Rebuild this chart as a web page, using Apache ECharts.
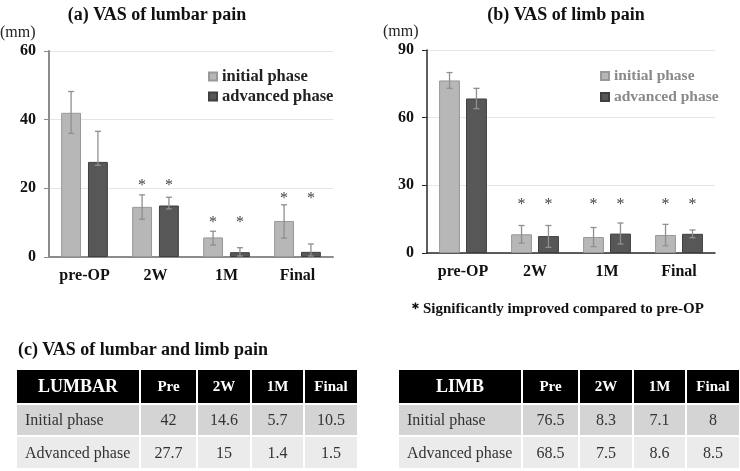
<!DOCTYPE html>
<html>
<head>
<meta charset="utf-8">
<script src="https://cdn.jsdelivr.net/npm/echarts@6/dist/echarts.min.js"></script>
<style>
	html, body { margin: 0; padding: 0; background: #fff; }
	body { width: 740px; height: 471px; position: relative; overflow: hidden; font-family: 'Liberation Serif', 'Times New Roman', serif; }
	#chart { position: absolute; left: 0; top: 0; width: 740px; height: 471px; }
	.note { position: absolute; left: 408px; top: 299px; font-size: 15px; font-weight: bold; color: #111; white-space: nowrap; }
	.sub { position: absolute; left: 18px; top: 339px; font-size: 18px; font-weight: bold; color: #111; white-space: nowrap; }
	.tbl { position: absolute; top: 370px; display: grid; grid-template-columns: 122px 55px 52px 51px 52px; grid-template-rows: 33px 30px 31px; column-gap: 2px; row-gap: 2px; }
	.tbl div { display: flex; align-items: center; justify-content: center; white-space: nowrap; }
	.tbl .h { background: #000; color: #fff; font-weight: bold; font-size: 15px; }
	.tbl .h.first { font-size: 18px; }
	.tbl .r1 { background: #d4d4d4; }
	.tbl .r2 { background: #ebebeb; }
	.tbl .b { color: #333; font-size: 16px; }
	.tbl .b.first { justify-content: flex-start; padding-left: 8px; }
</style>
</head>
<body>
<div id="chart"></div>
<div class="note">＊Significantly improved compared to pre-OP</div>
<div class="sub">(c) VAS of lumbar and limb pain</div>
<div class="tbl" id="lumbarTable" style="left:17px"></div>
<div class="tbl" id="limbTable" style="left:399px"></div>
<script>
const categories = ['pre-OP', '2W', '1M', 'Final'];
const tableCols = ['Pre', '2W', '1M', 'Final'];
const rowNames = ['Initial phase', 'Advanced phase'];

const lumbarInitial = [42, 14.6, 5.7, 10.5];
const lumbarAdvanced = [27.7, 15, 1.4, 1.5];
// error bar [low, high]
const lumbarInitialErr = [[36, 48.2], [11, 18.1], [3.5, 7.5], [5.5, 15.2]];
const lumbarAdvancedErr = [[26.7, 36.6], [14, 17.4], [0.3, 2.7], [0.3, 3.8]];
const lumbarStars = [null, 21.7, 10.8, 17.9];
const lumbarTicks = [0, 20, 40, 60];

const limbInitial = [76.5, 8.3, 7.1, 8];
const limbAdvanced = [68.5, 7.5, 8.6, 8.5];
const limbInitialErr = [[73, 80], [4.4, 12.2], [2.8, 11.3], [3.2, 12.7]];
const limbAdvancedErr = [[64, 73], [2.5, 12.2], [4, 13.3], [6.8, 10.2]];
const limbStars = [null, 22.8, 22.8, 22.8];
const limbTicks = [0, 30, 60, 90];

const FONT = 'Liberation Serif';

function errRender(sign, frac) {
	return function (params, api) {
		const x = api.coord([api.value(0), 0])[0] + sign * api.size([1, 0])[0] * frac;
		const lo = api.coord([api.value(0), api.value(1)])[1];
		const hi = api.coord([api.value(0), api.value(2)])[1];
		const style = { stroke: '#8f8f8f', lineWidth: 1.3 };
		return {
			type: 'group',
			children: [
				{ type: 'line', shape: { x1: x, y1: lo, x2: x, y2: hi }, style },
				{ type: 'line', shape: { x1: x - 3, y1: hi, x2: x + 3, y2: hi }, style },
				{ type: 'line', shape: { x1: x - 3, y1: lo, x2: x + 3, y2: lo }, style },
			],
		};
	};
}

function starRender(frac) {
	return function (params, api) {
		const c = api.coord([api.value(0), api.value(1)]);
		const w = api.size([1, 0])[0] * frac;
		const style = { text: '*', textAlign: 'center', textVerticalAlign: 'middle', fill: '#444', font: '16px ' + FONT };
		return {
			type: 'group',
			children: [
				{ type: 'text', x: c[0] - w, y: c[1] + 3, style },
				{ type: 'text', x: c[0] + w, y: c[1] + 3, style: Object.assign({}, style) },
			],
		};
	};
}

function errData(arr) {
	return arr.map((d, i) => [i, d[0], d[1]]);
}
function starData(arr) {
	return arr.map((v, i) => [i, v]).filter((d) => d[1] != null);
}

function xAxisOf(grid, color, width) {
	return {
		type: 'category',
		gridIndex: grid,
		data: categories,
		axisLine: { lineStyle: { color, width } },
		axisTick: { show: false },
		axisLabel: { fontFamily: FONT, fontWeight: 'bold', fontSize: 16, color: '#111', margin: 11 },
	};
}
function yAxisOf(grid, ticks, color, width) {
	return {
		type: 'value',
		gridIndex: grid,
		min: ticks[0],
		max: ticks[ticks.length - 1],
		interval: ticks[1] - ticks[0],
		axisLine: { show: true, lineStyle: { color, width } },
		axisTick: { show: true, length: 5, lineStyle: { color, width: 1 } },
		axisLabel: { fontFamily: FONT, fontWeight: 'bold', fontSize: 16, color: '#111', margin: 13 },
		splitLine: { lineStyle: { color: '#e6e6e6' } },
	};
}

const initStyle = { color: '#b7b7b7', borderColor: '#999', borderWidth: 1 };
const advStyle = { color: '#575757', borderColor: '#3f3f3f', borderWidth: 1 };

const chart = echarts.init(document.getElementById('chart'));
chart.setOption({
	animation: false,
	title: [
		{ text: '(a) VAS of lumbar pain', left: 152, top: 1, textAlign: 'center', textStyle: { fontFamily: FONT, fontSize: 18, fontWeight: 'bold', color: '#111' } },
		{ text: '(b) VAS of limb pain', left: 561, top: 1, textAlign: 'center', textStyle: { fontFamily: FONT, fontSize: 18, fontWeight: 'bold', color: '#111' } },
	],
	graphic: [
		{ type: 'text', left: 0, top: 25, style: { text: '(mm)', font: '16px ' + FONT, fill: '#222' } },
		{ type: 'text', left: 383, top: 24, style: { text: '(mm)', font: '16px ' + FONT, fill: '#222' } },
	],
	legend: [
		{
			orient: 'vertical', left: 203, top: 62, icon: 'rect', itemWidth: 8, itemHeight: 8, itemGap: 1, itemTextGap: 4,
			data: ['initial phase', 'advanced phase'],
			textStyle: { fontFamily: FONT, fontSize: 16.5, fontWeight: 'bold', color: '#222', lineHeight: 19 },
		},
		{
			orient: 'vertical', left: 595, top: 61, icon: 'rect', itemWidth: 8, itemHeight: 8, itemGap: 1, itemTextGap: 4,
			data: ['initial phase', 'advanced phase'],
			textStyle: { fontFamily: FONT, fontSize: 15.5, fontWeight: 'bold', color: '#8a8a8a', lineHeight: 20 },
		},
	],
	grid: [
		{ left: 49, right: 407, top: 51, bottom: 214 },
		{ left: 427, right: 25, top: 50, bottom: 218 },
	],
	xAxis: [xAxisOf(0, '#8c8c8c', 2), xAxisOf(1, '#2a2a2a', 1.5)],
	yAxis: [yAxisOf(0, lumbarTicks, '#8c8c8c', 2), yAxisOf(1, limbTicks, '#2a2a2a', 1.5)],
	series: [
		{ name: 'initial phase', type: 'bar', xAxisIndex: 0, yAxisIndex: 0, data: lumbarInitial, barWidth: '28%', barGap: '35%', itemStyle: initStyle },
		{ name: 'advanced phase', type: 'bar', xAxisIndex: 0, yAxisIndex: 0, data: lumbarAdvanced, barWidth: '28%', barGap: '35%', itemStyle: advStyle },
		{ name: 'initial phase', type: 'bar', xAxisIndex: 1, yAxisIndex: 1, data: limbInitial, barWidth: '29%', barGap: '29%', itemStyle: initStyle },
		{ name: 'advanced phase', type: 'bar', xAxisIndex: 1, yAxisIndex: 1, data: limbAdvanced, barWidth: '29%', barGap: '29%', itemStyle: advStyle },
		{ type: 'custom', xAxisIndex: 0, yAxisIndex: 0, z: 5, data: errData(lumbarInitialErr), renderItem: errRender(-1, 0.189) },
		{ type: 'custom', xAxisIndex: 0, yAxisIndex: 0, z: 5, data: errData(lumbarAdvancedErr), renderItem: errRender(1, 0.189) },
		{ type: 'custom', xAxisIndex: 1, yAxisIndex: 1, z: 5, data: errData(limbInitialErr), renderItem: errRender(-1, 0.187) },
		{ type: 'custom', xAxisIndex: 1, yAxisIndex: 1, z: 5, data: errData(limbAdvancedErr), renderItem: errRender(1, 0.187) },
		{ type: 'custom', xAxisIndex: 0, yAxisIndex: 0, z: 5, data: starData(lumbarStars), renderItem: starRender(0.189) },
		{ type: 'custom', xAxisIndex: 1, yAxisIndex: 1, z: 5, data: starData(limbStars), renderItem: starRender(0.187) },
	],
});

function buildTable(el, title, rows) {
	let html = '<div class="h first">' + title + '</div>';
	tableCols.forEach((c) => { html += '<div class="h">' + c + '</div>'; });
	rows.forEach((vals, r) => {
		const cls = r === 0 ? 'r1' : 'r2';
		html += '<div class="b first ' + cls + '">' + rowNames[r] + '</div>';
		vals.forEach((v) => { html += '<div class="b ' + cls + '">' + v + '</div>'; });
	});
	el.innerHTML = html;
}
buildTable(document.getElementById('lumbarTable'), 'LUMBAR', [lumbarInitial, lumbarAdvanced]);
buildTable(document.getElementById('limbTable'), 'LIMB', [limbInitial, limbAdvanced]);
</script>
</body>
</html>
